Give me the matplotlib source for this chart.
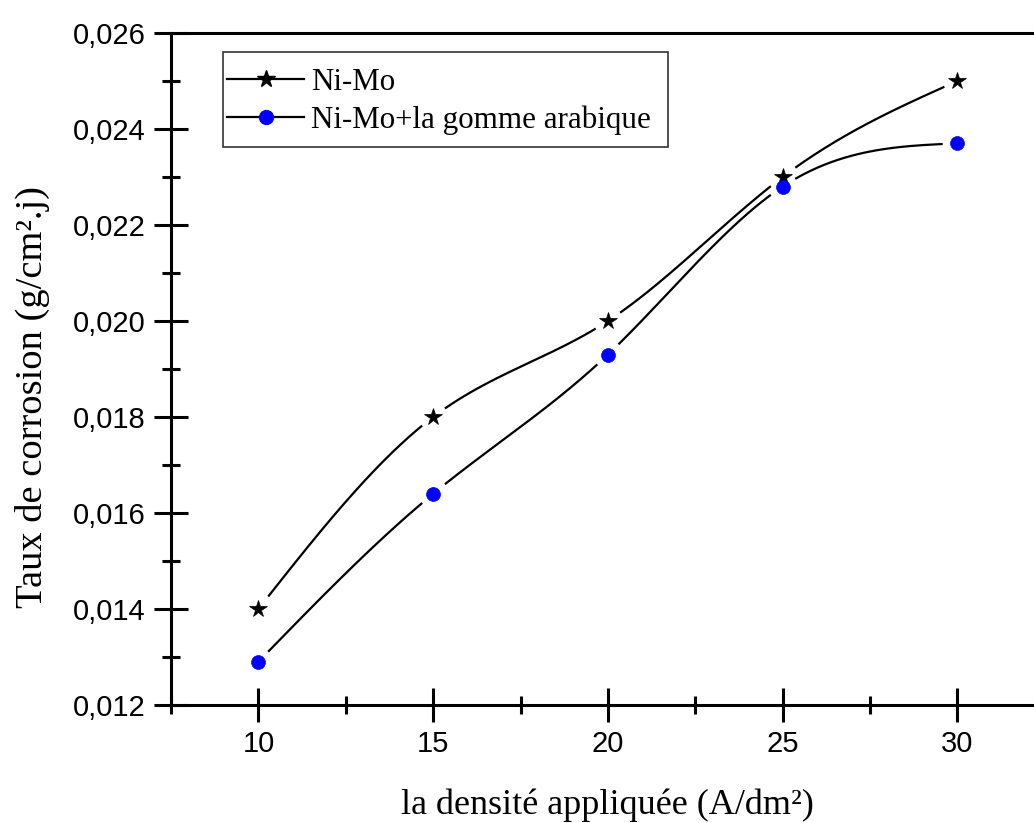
import numpy as np
import matplotlib
matplotlib.use("Agg")
import matplotlib.pyplot as plt
from matplotlib.patches import Rectangle
from matplotlib.ticker import MultipleLocator, FixedLocator, FixedFormatter

# ---- data ----
density = [10, 15, 20, 25, 30]
nimo = [0.0140, 0.0180, 0.0200, 0.0230, 0.0250]
nimo_gum = [0.0129, 0.0164, 0.0193, 0.0228, 0.0237]
labels = ["Ni-Mo", "Ni-Mo+la gomme arabique"]
y_ticks = [0.012, 0.014, 0.016, 0.018, 0.020, 0.022, 0.024, 0.026]
y_tick_labels = ["0,012", "0,014", "0,016", "0,018", "0,020", "0,022", "0,024", "0,026"]
x_ticks = [10, 15, 20, 25, 30]
x_tick_labels = ["10", "15", "20", "25", "30"]


def natural_spline(x, y, n=400):
    x = np.asarray(x, float); y = np.asarray(y, float)
    m = len(x); h = np.diff(x)
    A = np.zeros((m, m)); b = np.zeros(m)
    A[0, 0] = 1; A[-1, -1] = 1
    for i in range(1, m - 1):
        A[i, i - 1] = h[i - 1]; A[i, i] = 2 * (h[i - 1] + h[i]); A[i, i + 1] = h[i]
        b[i] = 3 * ((y[i + 1] - y[i]) / h[i] - (y[i] - y[i - 1]) / h[i - 1])
    c = np.linalg.solve(A, b)
    xs = np.linspace(x[0], x[-1], n)
    idx = np.clip(np.searchsorted(x, xs) - 1, 0, m - 2)
    dx = xs - x[idx]
    bb = (y[idx + 1] - y[idx]) / h[idx] - h[idx] * (2 * c[idx] + c[idx + 1]) / 3
    d = (c[idx + 1] - c[idx]) / (3 * h[idx])
    ys = y[idx] + bb * dx + c[idx] * dx ** 2 + d * dx ** 3
    return xs, ys


W, H = 1034, 823
fig = plt.figure(figsize=(W / 100, H / 100), dpi=100)
left_px, px_per_unit = 171, 34.95
x0, x1 = 7.5, 32.5
ax = fig.add_axes([left_px / W, (H - 705) / H, (x1 - x0) * px_per_unit / W, 672 / H])
ax.set_xlim(x0, x1)
ax.set_ylim(0.012, 0.026)

serif = ["Liberation Serif", "DejaVu Serif"]
sans = ["Liberation Sans", "DejaVu Sans"]

gap = 15.0  # px gap around markers
for ys_data, mk, col, ms, lab in [(nimo, "*", "black", 13, labels[0]),
                                  (nimo_gum, "o", "#0000ff", 10, labels[1])]:
    xs, ys = natural_spline(density, ys_data)
    disp = ax.transData.transform(np.column_stack([xs, ys]))
    pts = ax.transData.transform(np.column_stack([density, ys_data]))
    mask = np.zeros(len(xs), bool)
    for p in pts:
        mask |= np.hypot(disp[:, 0] - p[0], disp[:, 1] - p[1]) < gap
    ys_plot = ys.copy(); ys_plot[mask] = np.nan
    ax.plot(xs, ys_plot, color="black", lw=1.6, zorder=2)
    ax.plot(density, ys_data, linestyle="none", marker=mk, color=col, ms=ms,
            markeredgewidth=0.5, markeredgecolor=col, zorder=3)
    ax.plot([], [], color="black", lw=1.6, marker=mk, ms=ms, markerfacecolor=col,
            markeredgecolor=col, label=lab)

for s in ["left", "bottom", "top"]:
    ax.spines[s].set_linewidth(2.2)
ax.spines["right"].set_visible(False)

ax.xaxis.set_major_locator(FixedLocator(x_ticks))
ax.xaxis.set_major_formatter(FixedFormatter(x_tick_labels))
ax.xaxis.set_minor_locator(MultipleLocator(2.5))
ax.yaxis.set_major_locator(FixedLocator(y_ticks))
ax.yaxis.set_major_formatter(FixedFormatter(y_tick_labels))
ax.yaxis.set_minor_locator(MultipleLocator(0.001))
ax.tick_params(which="major", direction="inout", length=24, width=2.2, labelsize=21, pad=6)
ax.tick_params(which="minor", direction="inout", length=12.5, width=2.2)
ax.tick_params(top=False, right=False, which="both")
for t in ax.get_xticklabels() + ax.get_yticklabels():
    t.set_fontfamily(sans)

ax.set_xlabel("la densité appliquée (A/dm²)", fontsize=26, family=serif, va="center")
ax.xaxis.set_label_coords(0.5, -0.1488)
ax.set_ylabel("Taux de corrosion (g/cm².j)", fontsize=27.7, family=serif, va="center")
ax.yaxis.set_label_coords(-0.1591, 0.4583)

leg = ax.legend(loc="upper left", bbox_to_anchor=(227 / W, (H - 68) / H),
                bbox_transform=fig.transFigure, prop={"family": serif, "size": 22.3},
                frameon=False, handlelength=2.5, handletextpad=0.2,
                borderpad=0, labelspacing=0.28, borderaxespad=0)

frame = Rectangle((223 / W, (H - 147) / H), (668 - 223) / W, 95 / H,
                  transform=fig.transFigure, fill=False, edgecolor="#333333",
                  linewidth=1.2, zorder=5)
fig.add_artist(frame)

fig.savefig("out.png", dpi=100)
